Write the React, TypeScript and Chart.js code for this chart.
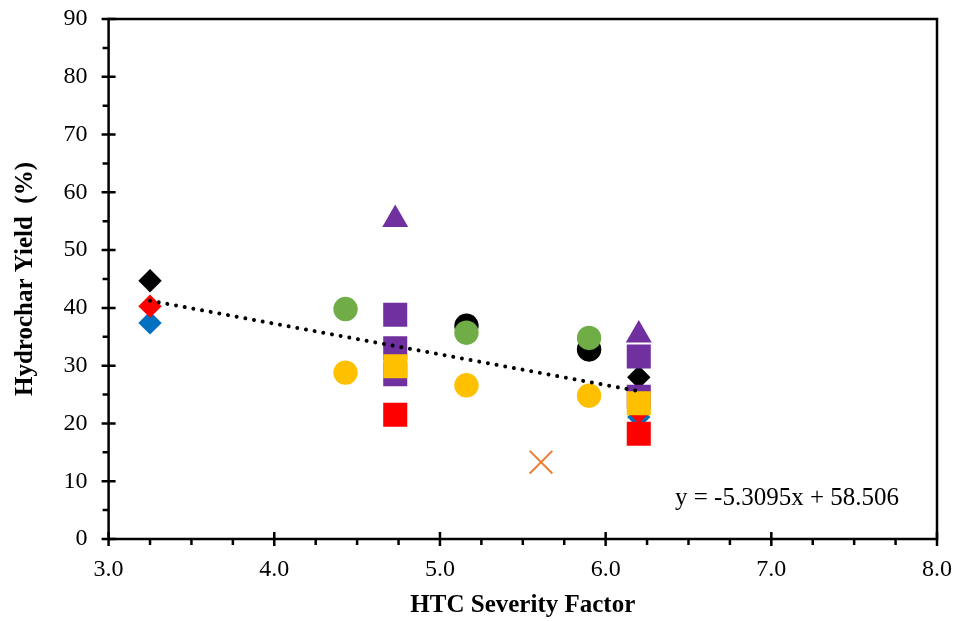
import { useEffect, useRef } from 'react';
import { Chart, registerables } from 'chart.js';

Chart.register(...registerables);

const SERIF = "'Liberation Serif', 'Times New Roman', Times, serif";

// HTC severity factor (x) and hydrochar yield in % (y), one pair of arrays per marker group
const blackDiamondX = [3.25, 6.2];
const blackDiamondY = [44.7, 28.0];
const blueDiamondX = [3.25, 6.2];
const blueDiamondY = [37.4, 21.1];
const redDiamondX = [3.25, 6.2];
const redDiamondY = [40.3, 22.0];
const blackCircleX = [5.16, 5.9];
const blackCircleY = [36.9, 32.8];
const greenCircleX = [4.43, 5.16, 5.9];
const greenCircleY = [39.8, 35.7, 34.8];
const yellowCircleX = [4.43, 5.16, 5.9];
const yellowCircleY = [28.8, 26.6, 24.8];
const purpleTriangleX = [4.73, 6.2];
const purpleTriangleY = [55.3, 35.3];
const purpleSquareX = [4.73, 4.73, 4.73, 6.2, 6.2];
const purpleSquareY = [38.8, 33.0, 28.5, 31.6, 24.6];
const yellowSquareX = [4.73, 6.2];
const yellowSquareY = [29.9, 23.5];
const redSquareX = [4.73, 6.2];
const redSquareY = [21.5, 18.2];
const orangeCrossX = [5.61];
const orangeCrossY = [13.3];

// Linear fit through all points
const trendSlope = -5.3095;
const trendIntercept = 58.506;
const trendRange = [3.25, 6.2];

// Axis ticks
const xTickValues = [3, 4, 5, 6, 7, 8];
const yTickValues = [0, 10, 20, 30, 40, 50, 60, 70, 80, 90];

const pts = (xs: number[], ys: number[]) => xs.map((x, i) => ({ x, y: ys[i] }));

type Marker = {
  label: string;
  xs: number[];
  ys: number[];
  color: string;
  style: string;
  radius: number;
};

// listed bottom-most first
const markers: Marker[] = [
  { label: 'Black diamond', xs: blackDiamondX, ys: blackDiamondY, color: '#000000', style: 'rectRot', radius: 11.7 },
  { label: 'Blue diamond', xs: blueDiamondX, ys: blueDiamondY, color: '#0070C0', style: 'rectRot', radius: 11.7 },
  { label: 'Red diamond', xs: redDiamondX, ys: redDiamondY, color: '#FF0000', style: 'rectRot', radius: 11.7 },
  { label: 'Black circle', xs: blackCircleX, ys: blackCircleY, color: '#000000', style: 'circle', radius: 12.2 },
  { label: 'Green circle', xs: greenCircleX, ys: greenCircleY, color: '#70AD47', style: 'circle', radius: 12.2 },
  { label: 'Yellow circle', xs: yellowCircleX, ys: yellowCircleY, color: '#FFC000', style: 'circle', radius: 12.2 },
  { label: 'Purple triangle', xs: purpleTriangleX, ys: purpleTriangleY, color: '#7030A0', style: 'triangle', radius: 15 },
  { label: 'Purple square', xs: purpleSquareX, ys: purpleSquareY, color: '#7030A0', style: 'rect', radius: 17 },
  { label: 'Yellow square', xs: yellowSquareX, ys: yellowSquareY, color: '#FFC000', style: 'rect', radius: 17 },
  { label: 'Red square', xs: redSquareX, ys: redSquareY, color: '#FF0000', style: 'rect', radius: 17 },
];

const framePlugin = {
  id: 'frame',
  afterDraw(chart: any) {
    const { ctx, chartArea } = chart;
    const xs = chart.scales.x;
    const ys = chart.scales.y;
    const { left, right, top, bottom } = chartArea;
    ctx.save();
    ctx.strokeStyle = '#000';
    ctx.lineWidth = 2.5;
    ctx.lineCap = 'butt';
    ctx.strokeRect(left, top, right - left, bottom - top);
    ctx.beginPath();
    for (let v = 0; v <= 90; v += 5) {
      const py = ys.getPixelForValue(v);
      if (v % 10 === 0) {
        ctx.moveTo(left - 7, py);
        ctx.lineTo(left + 7, py);
      } else {
        ctx.moveTo(left - 6, py);
        ctx.lineTo(left, py);
      }
    }
    for (let v = 3; v <= 8.001; v += 0.25) {
      const px = xs.getPixelForValue(v);
      if (Math.abs(v - Math.round(v)) < 1e-6) {
        ctx.moveTo(px, bottom - 7);
        ctx.lineTo(px, bottom + 7);
      } else {
        ctx.moveTo(px, bottom);
        ctx.lineTo(px, bottom + 6);
      }
    }
    ctx.stroke();

    ctx.fillStyle = '#000';
    ctx.font = `25px ${SERIF}`;
    ctx.textAlign = 'right';
    ctx.textBaseline = 'alphabetic';
    ctx.fillText(`y = ${trendSlope}x + ${trendIntercept}`, right - 38, 505);
    ctx.restore();
  },
};

export default function App() {
  const canvasRef = useRef<HTMLCanvasElement | null>(null);

  useEffect(() => {
    const canvas = canvasRef.current;
    if (!canvas) return;

    const datasets: any[] = markers.map((m, i) => ({
      type: 'scatter',
      label: m.label,
      data: pts(m.xs, m.ys),
      pointStyle: m.style,
      pointRadius: m.radius,
      pointHoverRadius: m.radius,
      pointBackgroundColor: m.color,
      pointBorderColor: m.color,
      pointBorderWidth: 0,
      order: 100 - i,
    }));

    datasets.push({
      type: 'scatter',
      label: 'Orange cross',
      data: pts(orangeCrossX, orangeCrossY),
      pointStyle: 'crossRot',
      pointRadius: 16,
      pointHoverRadius: 16,
      pointBorderColor: '#ED7D31',
      pointBackgroundColor: '#ED7D31',
      pointBorderWidth: 2,
      order: 2,
    });

    datasets.push({
      type: 'line',
      label: 'Linear fit',
      data: trendRange.map((x) => ({ x, y: trendSlope * x + trendIntercept })),
      borderColor: '#000',
      borderWidth: 4,
      borderDash: [0.01, 8.8],
      borderCapStyle: 'round',
      pointRadius: 0,
      fill: false,
      order: 1,
    });

    const chart = new Chart(canvas, {
      type: 'scatter',
      data: { datasets },
      plugins: [framePlugin],
      options: {
        animation: false,
        responsive: true,
        maintainAspectRatio: false,
        events: [],
        layout: { padding: { top: 19, right: 20, left: 0, bottom: 0 } },
        plugins: {
          legend: { display: false },
          tooltip: { enabled: false },
        },
        scales: {
          x: {
            type: 'linear',
            min: 3,
            max: 8,
            afterFit: (scale: any) => {
              scale.height = 82;
              scale.paddingLeft = 0;
              scale.paddingRight = 0;
            },
            afterBuildTicks: (scale: any) => {
              scale.ticks = xTickValues.map((value) => ({ value }));
            },
            grid: { display: false, drawTicks: false },
            border: { display: false },
            ticks: {
              color: '#000',
              padding: 16,
              font: { family: SERIF, size: 24 },
              callback: (v: any) => Number(v).toFixed(1),
            },
            title: {
              display: true,
              text: 'HTC Severity Factor',
              color: '#000',
              font: { family: SERIF, size: 25, weight: 'bold' },
              padding: { top: 0, bottom: 0 },
            },
          },
          y: {
            type: 'linear',
            min: 0,
            max: 90,
            afterFit: (scale: any) => {
              scale.width = 108.6;
              scale.paddingTop = 0;
              scale.paddingBottom = 0;
            },
            afterBuildTicks: (scale: any) => {
              scale.ticks = yTickValues.map((value) => ({ value }));
            },
            grid: { display: false, drawTicks: false },
            border: { display: false },
            ticks: {
              color: '#000',
              padding: 21,
              font: { family: SERIF, size: 24 },
            },
            title: {
              display: true,
              text: 'Hydrochar Yield  (%)',
              color: '#000',
              font: { family: SERIF, size: 25, weight: 'bold' },
              padding: { top: 11, bottom: 0 },
            },
          },
        },
      },
    });

    return () => chart.destroy();
  }, []);

  return (
    <div style={{ position: 'fixed', left: 0, top: 0, width: 957, height: 621, background: '#fff' }}>
      <canvas ref={canvasRef} />
    </div>
  );
}
